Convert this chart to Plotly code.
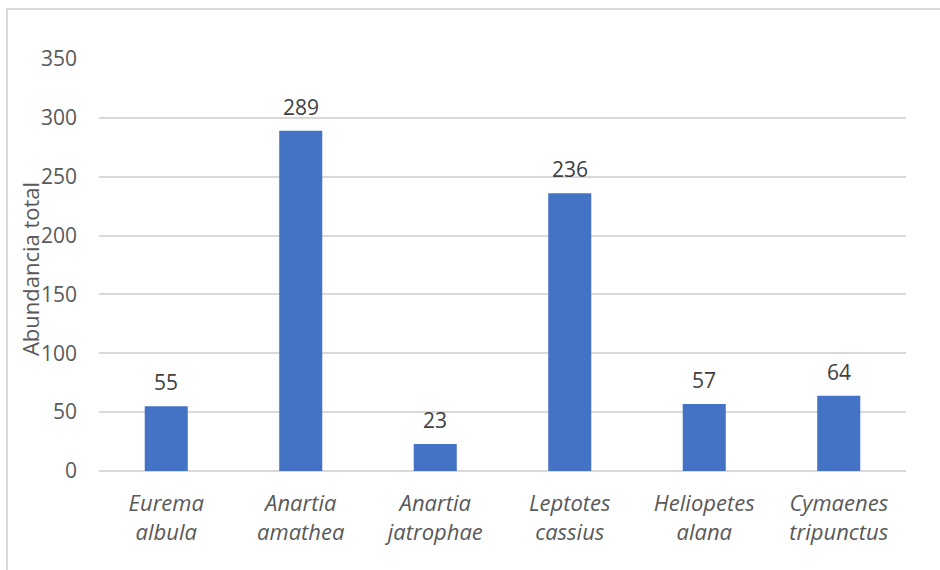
import plotly.graph_objects as go

species = ["Eurema<br>albula", "Anartia<br>amathea", "Anartia<br>jatrophae",
           "Leptotes<br>cassius", "Heliopetes<br>alana", "Cymaenes<br>tripunctus"]
abundance = [55, 289, 23, 236, 57, 64]
y_ticks = [0, 50, 100, 150, 200, 250, 300, 350]
y_title = "Abundancia total"

FONT = "Open Sans, Noto Sans, sans-serif"

fig = go.Figure()
fig.add_trace(go.Bar(
    x=species, y=abundance,
    marker=dict(color="#4472C4", line=dict(width=0)),
    width=0.32,
    hoverinfo="x+y",
))

for s, v in zip(species, abundance):
    fig.add_annotation(x=s, y=v, text=str(v), showarrow=False,
                       yanchor="bottom", yshift=8,
                       font=dict(family=FONT, size=21, color="#404040"))

L, R, T, B = 99, 34, 59, 99
W, H = 940, 570
pw, ph = W - L - R, H - T - B

fig.add_annotation(xref="paper", yref="paper", x=(30 - L) / pw, y=0.49,
                   text=y_title, textangle=-90, showarrow=False,
                   xanchor="center", yanchor="middle",
                   font=dict(family=FONT, size=22, color="#595959"))

fig.add_shape(type="rect", xref="paper", yref="paper",
              x0=(7 - L) / pw, x1=(W + 5 - L) / pw,
              y0=-(H + 5 - T - ph) / ph, y1=1 + (T - 9) / ph,
              line=dict(color="#d9d9d9", width=2), fillcolor="rgba(0,0,0,0)",
              layer="below")

fig.update_layout(
    width=W, height=H,
    margin=dict(l=L, r=R, t=T, b=B),
    paper_bgcolor="white", plot_bgcolor="white",
    showlegend=False,
    bargap=0.68,
    font=dict(family=FONT, color="#595959"),
    xaxis=dict(
        showgrid=False, showline=False, zeroline=False,
        tickfont=dict(family=FONT, size=22, color="#595959", style="italic"),
        ticklabelstandoff=17,
    ),
    yaxis=dict(
        range=[0, 350], tickvals=y_ticks,
        showgrid=True, gridcolor="#d9d9d9", gridwidth=1.5,
        zeroline=True, zerolinecolor="#d9d9d9", zerolinewidth=1.5,
        showline=False,
        tickfont=dict(family=FONT, size=21, color="#595959"),
        ticklabelstandoff=21,
    ),
)

fig.write_html("out.html")
